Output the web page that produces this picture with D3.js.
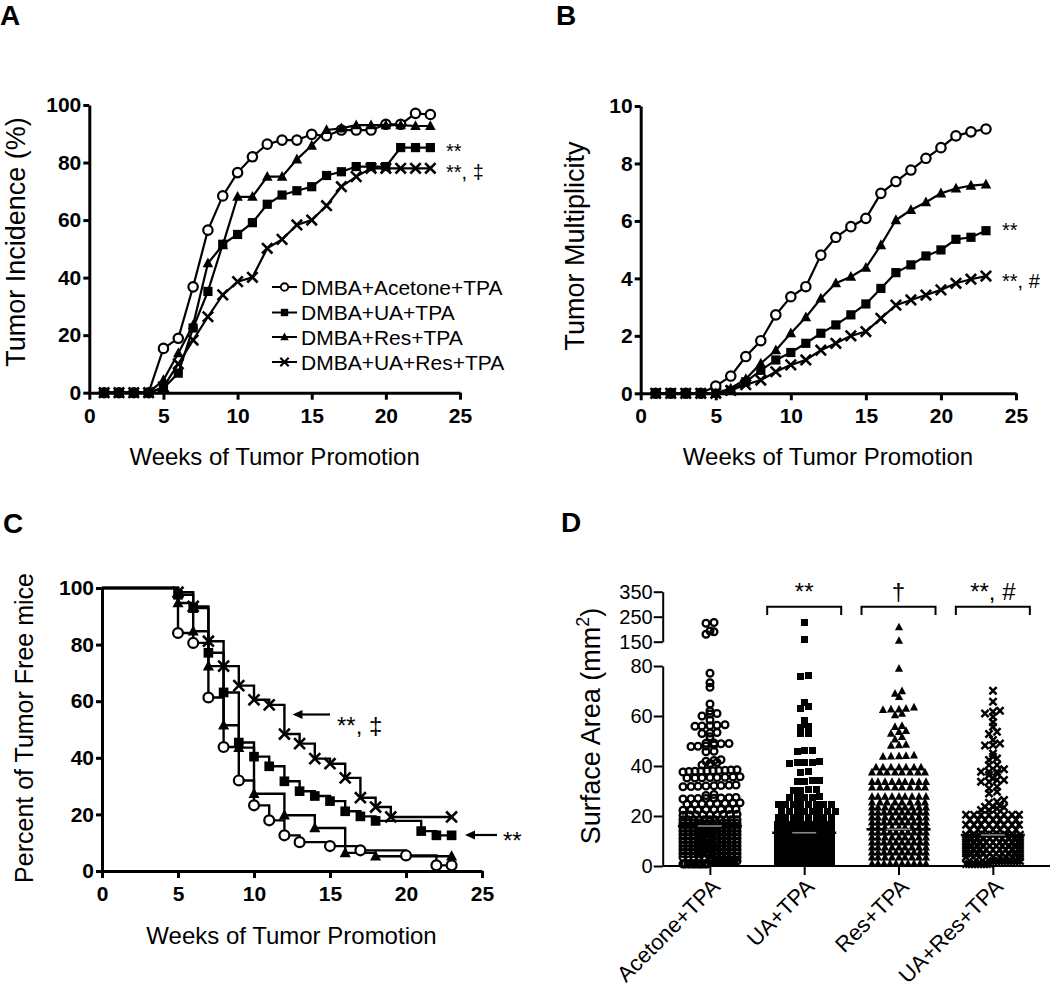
<!DOCTYPE html>
<html><head><meta charset="utf-8">
<script src="https://cdn.jsdelivr.net/npm/d3@7"></script>
<style>body{margin:0;background:#fff;}svg{display:block;background:#fff;}</style>
</head><body><svg id="c" width="1050" height="989"></svg>
<script>
// ---------------- DATA ----------------
const weeks = [1,2,3,4,5,6,7,8,9,10,11,12,13,14,15,16,17,18,19,20,21,22,23];
const seriesLabels = ["DMBA+Acetone+TPA","DMBA+UA+TPA","DMBA+Res+TPA","DMBA+UA+Res+TPA"];
const markerTypes = ["circle","square","triangle","cross"];
const weekTicks = [0,5,10,15,20,25];

// A: tumor incidence (%)
const incAcetone = [0,0,0,0,15.4,18.9,36.8,56.5,68.4,76.5,82.0,86.4,87.8,87.8,89.8,89.3,91.3,91.3,91.3,93.3,93.3,97.1,96.7];
const incUA      = [0,0,0,0,1.5,6.8,22.5,35.2,51.6,55.0,59.1,65.5,68.7,70.2,71.6,75.5,76.8,78.6,78.6,78.6,85.2,85.2,85.2];
const incRes     = [0,0,0,0,4.4,13.7,23.5,45.0,51.3,68.1,68.1,75.1,75.1,81.1,85.9,91.3,91.9,93.0,93.0,93.0,93.0,92.7,92.7];
const incCombo   = [0,0,0,0,2.0,10.0,18.3,26.4,34.0,38.6,40.1,50.2,53.3,58.3,60.0,65.0,71.6,75.1,78.0,78.0,78.0,78.0,78.0];
const incTicks = [0,20,40,60,80,100];

// B: tumor multiplicity
const multAcetone = [0,0,0,0,0.25,0.6,1.28,1.83,2.73,3.36,3.71,4.81,5.43,5.8,6.09,6.96,7.37,7.77,8.18,8.55,8.96,9.1,9.2];
const multUA      = [0,0,0,0,0,0.1,0.4,0.8,1.16,1.42,1.74,2.09,2.38,2.73,3.11,3.65,4.2,4.47,4.78,4.99,5.36,5.43,5.66];
const multRes     = [0,0,0,0,0,0.17,0.5,1.04,1.5,2.09,2.65,3.3,3.83,4.06,4.37,5.16,6.03,6.38,6.65,6.96,7.13,7.23,7.27];
const multCombo   = [0,0,0,0,0,0.1,0.3,0.46,0.75,0.99,1.16,1.5,1.74,2.0,2.15,2.61,3.07,3.25,3.42,3.6,3.83,3.97,4.08];
const multTicks = [0,2,4,6,8,10];

// C: percent tumor-free mice (Kaplan-Meier)
const survWeeksAcetone = [5,6,7,8,9,10,11,12,13,15,17,20,22,23];
const survAcetone      = [84.1,80.6,61.3,43.8,32.0,23.2,17.9,12.6,10.2,8.8,7.3,5.5,2.0,2.0];
const survWeeksUA = [5,6,7,8,9,10,11,12,13,14,15,16,17,18,21,22,23];
const survUA      = [97.6,92.9,77.1,63.1,45.4,40.4,37.0,31.7,28.2,26.5,24.7,21.1,19.3,17.7,14.1,12.6,12.6];
const survWeeksRes = [5,6,7,8,9,10,12,14,16,18,23];
const survRes      = [94.7,84.7,72.4,51.5,43.6,27.3,19.7,15.2,6.4,5.2,5.2];
const survWeeksCombo = [5,6,7,8,9,10,11,12,13,14,15,16,17,18,19,23];
const survCombo      = [98.5,93.5,81.2,72.4,65.5,60.5,58.7,48.4,45.0,39.7,37.9,32.9,25.9,22.6,19.1,19.1];
const survTicks = [0,20,40,60,80,100];

// D: tumor surface area (mm2), individual tumors
const areaCategories = ["Acetone+TPA","UA+TPA","Res+TPA","UA+Res+TPA"];
const areaAcetone = [224,227,190,180,193,
 77.1,73.3,71.5,64.8,60.8,62.0,60.0,61.0,58.4,
 56.1,56.3,55.9,56.5,56.0,53.2,53.0,53.4,51.7,
 49.2,48.0,47.8,49.0,48.9,47.9,48.4,49.1,45.7,45.9,
 42.5,42.2,41.9,41.0,40.4,41.4,
 38.5,38.0,38.2,37.8,38.4,38.0,37.6,38.3,37.9,38.1,
 35.4,35.6,35.2,35.5,35.3,35.7,35.4,35.2,
 32.2,31.8,32.0,32.4,31.9,32.1,32.3,31.7,
 28.6,28.2,27.2,27.0,26.8,27.4,27.1,26.9,27.3,27.0,
 25.2,24.9,25.0,25.3,24.8,25.1,25.0,24.7,
 22.6,22.4,22.5,22.7,22.3,22.5,22.6,22.4,
 20.5,20.6,20.4,20.5,20.7,20.3,20.5,20.6,20.5,
 18.5,18.5,18.5,18.5,18.5,18.5,18.5,18.5,18.5,18.5,18.5,
 17,17,17,17,17,17,17,17,17,17,17,17,
 15.5,15.5,15.5,15.5,15.5,15.5,15.5,15.5,15.5,15.5,15.5,
 14,14,14,14,14,14,14,14,14,14,14,14,
 12.5,12.5,12.5,12.5,12.5,12.5,12.5,12.5,12.5,12.5,12.5,
 11,11,11,11,11,11,11,11,11,11,11,11,
 9.5,9.5,9.5,9.5,9.5,9.5,9.5,9.5,9.5,9.5,9.5,
 8,8,8,8,8,8,8,8,8,8,8,8,
 6.5,6.5,6.5,6.5,6.5,6.5,6.5,6.5,6.5,6.5,6.5,
 5,5,5,5,5,5,5,5,5,5,5,5,
 3.5,3.5,3.5,3.5,3.5,3.5,3.5,3.5,3.5,3.5,3.5,
 2,2,2,2,2,2,2,2,2,2,2,2,
 0.8,0.8,0.8,0.8,0.8,0.8,0.8,0.8,0.8,0.8,0.8];
const areaUA = [226,160,75.7,76.1,63.7,63.0,65.5,
 58.4,56.8,55.7,55.3,53.0,53.2,46.4,45.7,46.2,
 41.8,41.2,41.5,41.6,41.3,37.5,37.7,34.2,33.8,34.0,34.4,
 30.5,30.3,30.6,30.2,27.5,27.3,27.7,27.4,27.6,
 24.5,24.5,24.5,24.5,24.5,24.5,24.5,24.5,
 22,22,22,22,22,22,22,22,
 19.4,19.4,19.4,19.4,19.4,19.4,19.4,19.4,
 16.8,16.8,16.8,16.8,16.8,16.8,16.8,16.8,16.8,
 14.8,14.8,14.8,14.8,14.8,14.8,14.8,14.8,14.8,14.8,
 12.8,12.8,12.8,12.8,12.8,12.8,12.8,12.8,12.8,
 10.8,10.8,10.8,10.8,10.8,10.8,10.8,10.8,10.8,10.8,
 8.8,8.8,8.8,8.8,8.8,8.8,8.8,8.8,8.8,
 6.8,6.8,6.8,6.8,6.8,6.8,6.8,6.8,6.8,6.8,
 4.8,4.8,4.8,4.8,4.8,4.8,4.8,4.8,4.8,
 2.8,2.8,2.8,2.8,2.8,2.8,2.8,2.8,2.8,2.8,
 0.9,0.9,0.9,0.9,0.9,0.9,0.9,0.9,0.9];
const areaRes = [208,154,79.0,69.0,67.7,70.0,
 63.5,63.0,62.7,60.4,61.0,62.7,62.5,
 55.7,53.7,56.1,53.0,54.1,51.7,50.7,48.4,48.2,48.6,
 44.0,44.3,43.8,44.1,43.9,
 39.5,39.5,39.5,39.5,39.5,39.5,39.5,
 37.5,37.5,37.5,37.5,37.5,37.5,37.5,37.5,
 33.7,33.7,33.7,33.7,33.7,33.7,33.7,33.7,33.7,
 31.5,31.5,31.5,31.5,31.5,31.5,31.5,31.5,
 27.8,27.8,27.8,27.8,27.8,27.8,27.8,27.8,27.8,
 25.5,25.5,25.5,25.5,25.5,25.5,25.5,25.5,
 23.5,23.5,23.5,23.5,23.5,23.5,23.5,23.5,23.5,
 21.5,21.5,21.5,21.5,21.5,21.5,21.5,21.5,21.5,21.5,
 19.5,19.5,19.5,19.5,19.5,19.5,19.5,19.5,19.5,
 17.5,17.5,17.5,17.5,17.5,17.5,17.5,17.5,17.5,17.5,
 15.5,15.5,15.5,15.5,15.5,15.5,15.5,15.5,15.5,
 13.5,13.5,13.5,13.5,13.5,13.5,13.5,13.5,13.5,13.5,
 11.5,11.5,11.5,11.5,11.5,11.5,11.5,11.5,11.5,
 9.5,9.5,9.5,9.5,9.5,9.5,9.5,9.5,9.5,9.5,
 7.5,7.5,7.5,7.5,7.5,7.5,7.5,7.5,7.5,
 5.5,5.5,5.5,5.5,5.5,5.5,5.5,5.5,5.5,5.5,
 3.5,3.5,3.5,3.5,3.5,3.5,3.5,3.5,3.5,
 1.0,1.0,1.0,1.0,1.0,1.0,1.0,1.0,1.0,1.0];
const areaCombo = [70.1,65.7,62.1,61.0,61.7,59.7,57.5,55.7,53.7,52.8,
 50.4,49.0,48.4,48.2,45.0,43.7,43.0,42.4,40.4,40.4,
 38.7,37.7,37.7,37.7,37.0,36.4,35.0,34.4,34.4,33.7,33.7,
 31.7,31.0,29.7,29.0,26.4,25.7,25.3,24.0,23.7,23.7,23.5,23.0,22.4,22.4,
 20.5,20.5,20.5,20.5,20.5,20.5,20.5,20.5,
 18.5,18.5,18.5,18.5,18.5,18.5,18.5,
 16.5,16.5,16.5,16.5,16.5,16.5,16.5,16.5,
 14.5,14.5,14.5,14.5,14.5,14.5,14.5,
 12.5,12.5,12.5,12.5,12.5,12.5,12.5,12.5,12.5,
 11,11,11,11,11,11,11,11,11,11,
 9.5,9.5,9.5,9.5,9.5,9.5,9.5,9.5,9.5,
 8,8,8,8,8,8,8,8,8,8,
 6.5,6.5,6.5,6.5,6.5,6.5,6.5,6.5,6.5,
 5,5,5,5,5,5,5,5,5,5,
 3.5,3.5,3.5,3.5,3.5,3.5,3.5,3.5,3.5,
 2,2,2,2,2,2,2,2,2,2,
 0.8,0.8,0.8,0.8,0.8,0.8,0.8,0.8,0.8];
const areaMeans = [16.0,13.3,14.7,12.4];
const areaSignif = ["","**","\u2020","**, #"];
const areaLowTicks = [0,20,40,60,80];
const areaHighTicks = [150,250,350];

// ---------------- DRAWING ----------------
const FONT = '"Liberation Sans", Arial, Helvetica, sans-serif';
const svg = d3.select("#c");
svg.append("rect").attr("width",1050).attr("height",989).attr("fill","#fff");

function styleAxis(g, sw, fs, bold){
  g.attr("font-family",FONT);
  g.select(".domain").attr("stroke","#000").attr("stroke-width",sw);
  g.selectAll(".tick line").attr("stroke","#000").attr("stroke-width",sw);
  g.selectAll(".tick text").attr("fill","#000").attr("font-size",fs)
   .attr("font-weight",bold?"bold":"normal").attr("font-family",FONT);
}
function drawMarker(g, type, x, y, s, sw, fill){
  if(type==="circle") return g.append("circle").attr("cx",x).attr("cy",y).attr("r",s)
     .attr("fill",fill||"#fff").attr("stroke","#000").attr("stroke-width",sw);
  else if(type==="square") return g.append("rect").attr("x",x-s).attr("y",y-s)
     .attr("width",2*s).attr("height",2*s).attr("fill","#000");
  else if(type==="triangle") return g.append("path")
     .attr("d",`M${x},${y-s*1.2}L${x+s*1.1},${y+s*0.85}L${x-s*1.1},${y+s*0.85}Z`).attr("fill","#000");
  else return g.append("path").attr("d",`M${x-s},${y-s}L${x+s},${y+s}M${x-s},${y+s}L${x+s},${y-s}`)
     .attr("stroke","#000").attr("stroke-width",sw).attr("fill","none");
}
function txt(x,y,s,fs,opt={}){
  const t = svg.append("text").attr("x",x).attr("y",y).text(s)
    .attr("font-family",FONT).attr("font-size",fs).attr("fill","#000")
    .attr("font-weight",opt.bold?"bold":"normal")
    .attr("text-anchor",opt.anchor||"start");
  if(opt.rot!==undefined) t.attr("transform",`rotate(${opt.rot},${x},${y})`);
  return t;
}
const markSize = {circle:[4.7,2.2],square:[4.6,0],triangle:[4.8,0],cross:[5.2,2.6]};

// ---- Panel A & B (line charts) ----
function linePanel(x0,x1,yBot,yTop,yMax,yTicks,seriesVals){
  const xs = d3.scaleLinear().domain([0,25]).range([x0,x1]);
  const ys = d3.scaleLinear().domain([0,yMax]).range([yBot,yTop]);
  const g = svg.append("g");
  const line = d3.line().x(d=>xs(d[0])).y(d=>ys(d[1]));
  seriesVals.forEach((vals,i)=>{
    const pts = weeks.map((w,j)=>[w,vals[j]]);
    g.append("path").attr("d",line(pts)).attr("fill","none").attr("stroke","#000").attr("stroke-width",2.2);
    const [s,sw] = markSize[markerTypes[i]];
    pts.forEach(p=>drawMarker(g,markerTypes[i],xs(p[0]),ys(p[1]),s,sw));
  });
  const ax = svg.append("g").attr("transform",`translate(0,${yBot})`)
    .call(d3.axisBottom(xs).tickValues(weekTicks).tickSize(7).tickPadding(8).tickSizeOuter(0));
  styleAxis(ax,3,21,true);
  const ay = svg.append("g").attr("transform",`translate(${x0},0)`)
    .call(d3.axisLeft(ys).tickValues(yTicks).tickSize(6).tickPadding(2).tickSizeOuter(0));
  styleAxis(ay,3,21,true);
  return {xs,ys};
}
linePanel(89.3,460,392.7,105,100,incTicks,[incAcetone,incUA,incRes,incCombo]);
linePanel(640.7,1016,393.3,106,10,multTicks,[multAcetone,multUA,multRes,multCombo]);

// Legend A
const legY = [287,312.5,337,362];
seriesLabels.forEach((lab,i)=>{
  svg.append("line").attr("x1",272).attr("x2",297).attr("y1",legY[i]).attr("y2",legY[i])
     .attr("stroke","#000").attr("stroke-width",2);
  const [s,sw]=markSize[markerTypes[i]];
  drawMarker(svg,markerTypes[i],284.5,legY[i],s*0.8,sw*0.85);
  txt(301,legY[i]+7.5,lab,21);
});
// annotations A, B
txt(446,158,"**",20);
txt(446,179,"**, \u2021",20);
txt(1002,237,"**",20);
txt(1002,288,"**, #",20);

// titles A, B
txt(274.6,465,"Weeks of Tumor Promotion",24,{anchor:"middle"});
txt(828,465,"Weeks of Tumor Promotion",24,{anchor:"middle"});
txt(25,242,"Tumor Incidence (%)",27,{anchor:"middle",rot:-90});
txt(584,246,"Tumor Multiplicity",27,{anchor:"middle",rot:-90});

// ---- Panel C (Kaplan-Meier) ----
{
  const xs = d3.scaleLinear().domain([0,25]).range([102,482]);
  const ys = d3.scaleLinear().domain([0,100]).range([871,588]);
  const g = svg.append("g");
  const step = d3.line().x(d=>xs(d[0])).y(d=>ys(d[1])).curve(d3.curveStepAfter);
  const sw = [[survWeeksAcetone,survAcetone],[survWeeksUA,survUA],[survWeeksRes,survRes],[survWeeksCombo,survCombo]];
  sw.forEach(([w,v],i)=>{
    const pts = [[0,100]].concat(w.map((wk,j)=>[wk,v[j]]));
    g.append("path").attr("d",step(pts)).attr("fill","none").attr("stroke","#000").attr("stroke-width",2.4);
  });
  sw.forEach(([w,v],i)=>{
    const [s,k]=markSize[markerTypes[i]];
    w.forEach((wk,j)=>drawMarker(g,markerTypes[i],xs(wk),ys(v[j]),s*1.05,k));
  });
  const ax = svg.append("g").attr("transform",`translate(0,871)`)
    .call(d3.axisBottom(xs).tickValues(weekTicks).tickSize(7).tickPadding(8).tickSizeOuter(0));
  styleAxis(ax,3,21,true);
  const ay = svg.append("g").attr("transform",`translate(102,0)`)
    .call(d3.axisLeft(ys).tickValues(survTicks).tickSize(6).tickPadding(2).tickSizeOuter(0));
  styleAxis(ay,3,21,true);
  function arrow(xTip,xEnd,y){
    svg.append("line").attr("x1",xTip+6).attr("x2",xEnd).attr("y1",y).attr("y2",y).attr("stroke","#000").attr("stroke-width",2.2);
    svg.append("path").attr("d",`M${xTip},${y}L${xTip+10},${y-4.5}L${xTip+10},${y+4.5}Z`).attr("fill","#000");
  }
  arrow(292.5,330,714.5);
  txt(337,734,"**, \u2021",24);
  arrow(465,497,835);
  txt(503,849,"**",24);
  txt(291.5,944,"Weeks of Tumor Promotion",24,{anchor:"middle"});
  txt(33,728,"Percent of Tumor Free mice",25,{anchor:"middle",rot:-90});
}

// ---- Panel D (dot plot with broken axis) ----
{
  const xAxisY = 866, yAx = 662.7;
  const xs = d3.scalePoint().domain(areaCategories).range([662.7,1040]).padding(0.5);
  const yLow = d3.scaleLinear().domain([0,80]).range([866,666]);
  const yHigh = d3.scaleLinear().domain([150,350]).range([641.7,591.7]);
  const yv = v => v<=80 ? yLow(v) : yHigh(v);
  const groups = [areaAcetone,areaUA,areaRes,areaCombo];
  const dSize = {circle:[3.4,2.3],square:[3.5,0],triangle:[3.7,0],cross:[3.6,2.5]};
  const g = svg.append("g");
  groups.forEach((vals,gi)=>{
    const cx = xs(areaCategories[gi]);
    const pts = vals.map(v=>({v,y:yv(v)})).sort((a,b)=>b.y-a.y);
    const rows=[]; let cur=null;
    pts.forEach(p=>{ if(!cur || Math.abs(p.y-cur.y0)>3){cur={y0:p.y,items:[]};rows.push(cur);} cur.items.push(p); });
    const spacing = 7.6, maxHalf = 27;
    let prevN = -1, alt = false;
    rows.forEach(r=>{
      const n=r.items.length;
      const sp = n>1 ? Math.min(spacing, 2*maxHalf/(n-1)) : spacing;
      let shift = 0;
      if(n===prevN && n>2){ alt = !alt; shift = alt ? sp/2 : 0; } else { alt = false; }
      prevN = n;
      r.items.forEach((p,i)=>{p.x = cx + shift + (i-(n-1)/2)*sp;});
    });
    const [s,k]=dSize[markerTypes[gi]];
    pts.forEach(p=>{
      const m = drawMarker(g,markerTypes[gi],Math.round(p.x),p.y,s,k,"none");
      if(markerTypes[gi]==="square") m.attr("shape-rendering","crispEdges");
    });
    const my = yLow(areaMeans[gi]);
    g.append("line").attr("x1",cx-32).attr("x2",cx+32).attr("y1",my).attr("y2",my).attr("stroke","#000").attr("stroke-width",2.5);
    g.append("line").attr("x1",cx-12).attr("x2",cx+12).attr("y1",my).attr("y2",my).attr("stroke","#888").attr("stroke-width",1.6);
    if(areaSignif[gi]){
      svg.append("path").attr("d",`M${cx-37},615V606.7H${cx+37}V615`).attr("fill","none").attr("stroke","#000").attr("stroke-width",2);
      txt(cx,600,areaSignif[gi],24,{anchor:"middle"});
    }
  });
  const ax = svg.append("g").attr("transform",`translate(0,${xAxisY})`)
    .call(d3.axisBottom(xs).tickSize(9).tickSizeOuter(0));
  ax.select(".domain").attr("d",`M${yAx},0H1050`);
  styleAxis(ax,2,21,false);
  ax.selectAll(".tick text").attr("text-anchor","end").attr("dy",null).attr("y",0)
    .attr("transform","translate(11,22) rotate(-45)").attr("font-size",22);
  const ay1 = svg.append("g").attr("transform",`translate(${yAx},0)`)
    .call(d3.axisLeft(yLow).tickValues(areaLowTicks).tickSize(9).tickPadding(1).tickSizeOuter(0));
  styleAxis(ay1,2,20,false);
  const ay2 = svg.append("g").attr("transform",`translate(${yAx},0)`)
    .call(d3.axisLeft(yHigh).tickValues(areaHighTicks).tickSize(9).tickPadding(1).tickSizeOuter(0));
  styleAxis(ay2,2,20,false);
  const t = svg.append("text").attr("transform","translate(600,726) rotate(-90)")
    .attr("text-anchor","middle").attr("font-family",FONT).attr("font-size",27).attr("fill","#000");
  t.append("tspan").text("Surface Area (mm");
  t.append("tspan").text("2").attr("font-size",18).attr("dy",-11);
  t.append("tspan").text(")").attr("dy",11);
}

// panel letters
txt(0,25,"A",28,{bold:true});
txt(556,25,"B",28,{bold:true});
txt(3,533,"C",28,{bold:true});
txt(561,532,"D",28,{bold:true});
</script></body></html>
